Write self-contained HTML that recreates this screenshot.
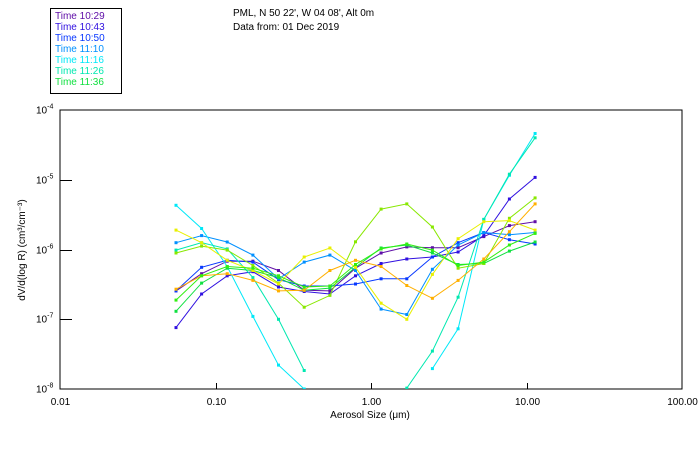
<!DOCTYPE html>
<html><head><meta charset="utf-8"><style>
body{margin:0;background:#fff;}
svg{display:block;font-family:"Liberation Sans",sans-serif;}
</style></head><body>
<svg id="chart" width="700" height="450" viewBox="0 0 700 450">
<defs><clipPath id="plotclip"><rect x="60" y="110" width="622" height="279"/></clipPath></defs>
<rect width="700" height="450" fill="#fff"/>
<g>
<rect x="50.5" y="8.5" width="71" height="85" fill="none" stroke="#000"/>
<g id="legend-items" font-size="10"></g>
</g>
<text x="233" y="16" font-size="10">PML, N 50 22', W 04 08', Alt 0m</text>
<text x="233" y="30" font-size="10">Data from: 01 Dec 2019</text>
<rect x="60" y="110" width="622" height="279" fill="none" stroke="#000"/>
<g id="axes"></g>
<g id="series" clip-path="url(#plotclip)"></g>
<text x="370" y="418" font-size="10" text-anchor="middle">Aerosol Size (μm)</text>
<text transform="translate(25,250) rotate(-90)" font-size="10" text-anchor="middle">dV/d(log R) (cm³/cm⁻³)</text>
</svg>
<script>
const sizes=[0.0557,0.0814,0.119,0.174,0.254,0.372,0.544,0.795,1.162,1.699,2.484,3.63,5.31,7.76,11.35];
const xTicks=[0.01,0.1,1,10,100];
const xTickLabels=["0.01","0.10","1.00","10.00","100.00"];
const yTickExps=[-4,-5,-6,-7,-8];
const seriesNames=["Time 10:29","Time 10:43","Time 10:50","Time 11:10","Time 11:16","Time 11:26","Time 11:36","lime","yellow","orange","green2"];
const seriesColors=["#6010a8","#3010e0","#0838ff","#0090ff","#00e8f8","#00e8b0","#10e040","#88e800","#e8f000","#ffb000","#30f010"];
const s1029=[2.55e-7,4.5e-7,6.8e-7,6.8e-7,5.0e-7,2.6e-7,2.55e-7,5.4e-7,8.9e-7,1.09e-6,1.06e-6,1.06e-6,1.53e-6,2.2e-6,2.5e-6];
const s1043=[7.6e-8,2.3e-7,4.2e-7,4.8e-7,2.9e-7,2.5e-7,2.3e-7,4.2e-7,6.3e-7,7.3e-7,7.8e-7,9.2e-7,1.58e-6,5.3e-6,1.08e-5];
const s1050=[2.55e-7,5.55e-7,7.0e-7,6.6e-7,3.7e-7,3.0e-7,3.0e-7,3.2e-7,3.8e-7,3.8e-7,7.8e-7,1.25e-6,1.75e-6,1.38e-6,1.2e-6];
const s1110=[1.25e-6,1.58e-6,1.28e-6,8.3e-7,3.8e-7,6.6e-7,8.3e-7,5.0e-7,1.4e-7,1.17e-7,5.2e-7,1.16e-6,1.75e-6,1.63e-6,1.75e-6];
const s1116=[4.3e-6,2.0e-6,5.7e-7,1.1e-7,2.2e-8,1.0e-8,null,null,null,null,1.96e-8,7.3e-8,2.7e-6,1.16e-5,4.6e-5];
const s1126=[9.8e-7,1.25e-6,1.02e-6,3.95e-7,1.0e-7,1.84e-8,null,null,null,1.03e-8,3.5e-8,2.07e-7,2.7e-6,1.2e-5,4.0e-5];
const s1136=[1.3e-7,3.3e-7,5.4e-7,5.0e-7,3.95e-7,2.6e-7,2.8e-7,5.55e-7,1.05e-6,1.16e-6,8.9e-7,6.1e-7,6.3e-7,9.5e-7,1.28e-6];
const sLime=[8.9e-7,1.12e-6,9.8e-7,5.9e-7,3.3e-7,1.49e-7,2.2e-7,1.29e-6,3.8e-6,4.5e-6,2.1e-6,5.4e-7,6.3e-7,2.8e-6,5.5e-6];
const sYellow=[1.9e-6,1.25e-6,7.0e-7,5.0e-7,3.2e-7,7.8e-7,1.05e-6,5.55e-7,1.7e-7,1.0e-7,4.4e-7,1.43e-6,2.5e-6,2.6e-6,1.9e-6];
const sOrange=[2.7e-7,4.2e-7,4.5e-7,3.6e-7,2.55e-7,2.6e-7,5.0e-7,7.0e-7,5.7e-7,3.05e-7,2.0e-7,3.6e-7,7.3e-7,1.8e-6,4.5e-6];
const sGreen2=[1.88e-7,4.2e-7,5.7e-7,5.4e-7,4.2e-7,2.9e-7,3.0e-7,6.1e-7,1.02e-6,1.2e-6,9.8e-7,5.9e-7,6.6e-7,1.16e-6,1.7e-6];
const allSeries=[s1029,s1043,s1050,s1110,s1116,s1126,s1136,sLime,sYellow,sOrange,sGreen2];

const X0=60,X1=682,Y0=110,Y1=389;
function xScale(v){return X0+(Math.log10(v)+2)/4*(X1-X0);}
function yScale(v){return Y0+(-4-Math.log10(v))/4*(Y1-Y0);}
const NS="http://www.w3.org/2000/svg";
function mk(tag,attrs,parent){const e=document.createElementNS(NS,tag);for(const k in attrs)e.setAttribute(k,attrs[k]);parent.appendChild(e);return e;}

const axes=document.getElementById('axes');
xTicks.forEach((t,i)=>{
  const x=Math.round(xScale(t))+0.5;
  if(i>0&&i<xTicks.length-1){
    const tk=mk('line',{x1:x,x2:x,y1:Y1,y2:Y1-6,stroke:'#000'},axes);
    
    
  }
  const lb=mk('text',{x:x,y:405,'font-size':10,'text-anchor':'middle'},axes);
  lb.textContent=xTickLabels[i];
  
  
});
yTickExps.forEach((e,i)=>{
  const y=Math.round(yScale(Math.pow(10,e)))+0.5;
  if(i>0&&i<yTickExps.length-1){
    const tk=mk('line',{x1:X0,x2:X0+12,y1:y,y2:y,stroke:'#000'},axes);
    
    
  }
  const lb=mk('text',{x:36,y:y+3,'font-size':10},axes);
  
  
  lb.appendChild(document.createTextNode('10'));
  const sp=document.createElementNS(NS,'tspan');sp.setAttribute('dy','-5');sp.setAttribute('font-size','7');sp.textContent=String(e);lb.appendChild(sp);
});

const sg=document.getElementById('series');
allSeries.forEach((data,si)=>{
  const g=mk('g',{},sg);
  
  
  let d='',pen=false;
  data.forEach((v,i)=>{
    if(v==null){pen=false;return;}
    d+=(pen?'L':'M')+xScale(sizes[i]).toFixed(1)+' '+yScale(v).toFixed(1);pen=true;
  });
  const p=mk('path',{d:d,fill:'none',stroke:seriesColors[si],'stroke-width':1},g);
  
  
  data.forEach((v,i)=>{
    if(v==null)return;
    const r=mk('rect',{x:(xScale(sizes[i])-1.5).toFixed(1),y:(yScale(v)-1.5).toFixed(1),width:3,height:3,fill:seriesColors[si]},g);
    
    
  });
});

const lg=document.getElementById('legend-items');
for(let i=0;i<7;i++){
  const t=mk('text',{x:55,y:19+i*11,fill:seriesColors[i]},lg);
  t.textContent=seriesNames[i];
  
  
}
</script>
</body></html>
